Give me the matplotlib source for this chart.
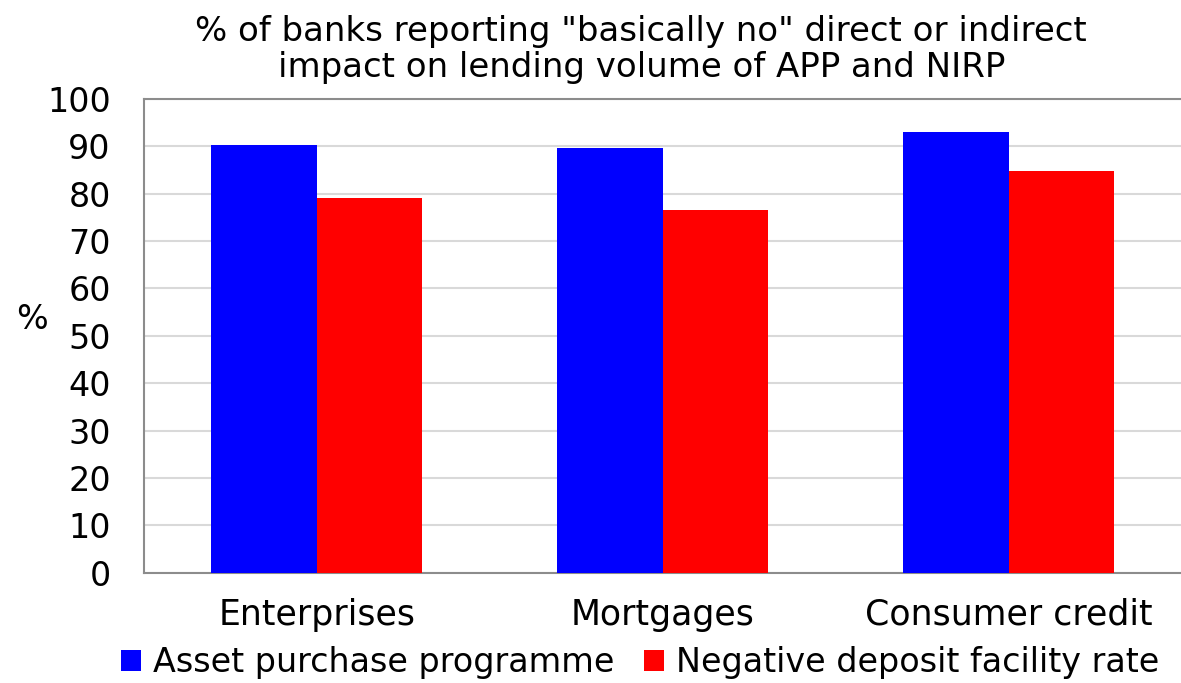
import numpy as np
import matplotlib.pyplot as plt

categories = ['Enterprises', 'Mortgages', 'Consumer credit']
app_values = [90.3, 89.6, 93.0]
nirp_values = [79.2, 76.6, 84.7]
series_names = ['Asset purchase programme', 'Negative deposit facility rate']
yticks = [0, 10, 20, 30, 40, 50, 60, 70, 80, 90, 100]

plt.rcParams['font.family'] = ['DejaVu Sans']

fig = plt.figure(figsize=(11.81, 6.83), dpi=100)
ax = fig.add_axes([0.1219, 0.1615, 0.8789, 0.6936])

x = np.arange(len(categories))
w = 0.305
ax.bar(x - w / 2, app_values, w, color='#0000ff', label=series_names[0], zorder=3)
ax.bar(x + w / 2, nirp_values, w, color='#ff0000', label=series_names[1], zorder=3)

ax.set_xlim(-0.5, 2.5)
ax.set_ylim(0, 100)
ax.set_yticks(yticks)
ax.set_xticks(x)
ax.set_xticklabels(categories)
ax.tick_params(axis='y', length=0, labelsize=24, pad=24)
ax.tick_params(axis='x', length=0, labelsize=25, pad=18)
ax.yaxis.grid(True, color='#d9d9d9', linewidth=1.5, zorder=0)
ax.set_axisbelow(True)
for s in ax.spines.values():
    s.set_color('#8c8c8c')
    s.set_linewidth(1.5)
ax.spines['right'].set_visible(False)

ax.set_ylabel('%', rotation=0, fontsize=24, labelpad=0)
ax.yaxis.set_label_coords(-0.108, 0.5)

fig.text(0.543, 0.928, '% of banks reporting "basically no" direct or indirect\n'
         'impact on lending volume of APP and NIRP',
         ha='center', va='center', fontsize=24.5, linespacing=1.12)

fig.legend(loc='center', bbox_to_anchor=(0.542, 0.03), ncol=2, frameon=False,
           fontsize=24, handlelength=0.6, handleheight=0.6, handletextpad=0.35,
           columnspacing=0.9, borderpad=0.1)

fig.savefig('out.png', dpi=100)
